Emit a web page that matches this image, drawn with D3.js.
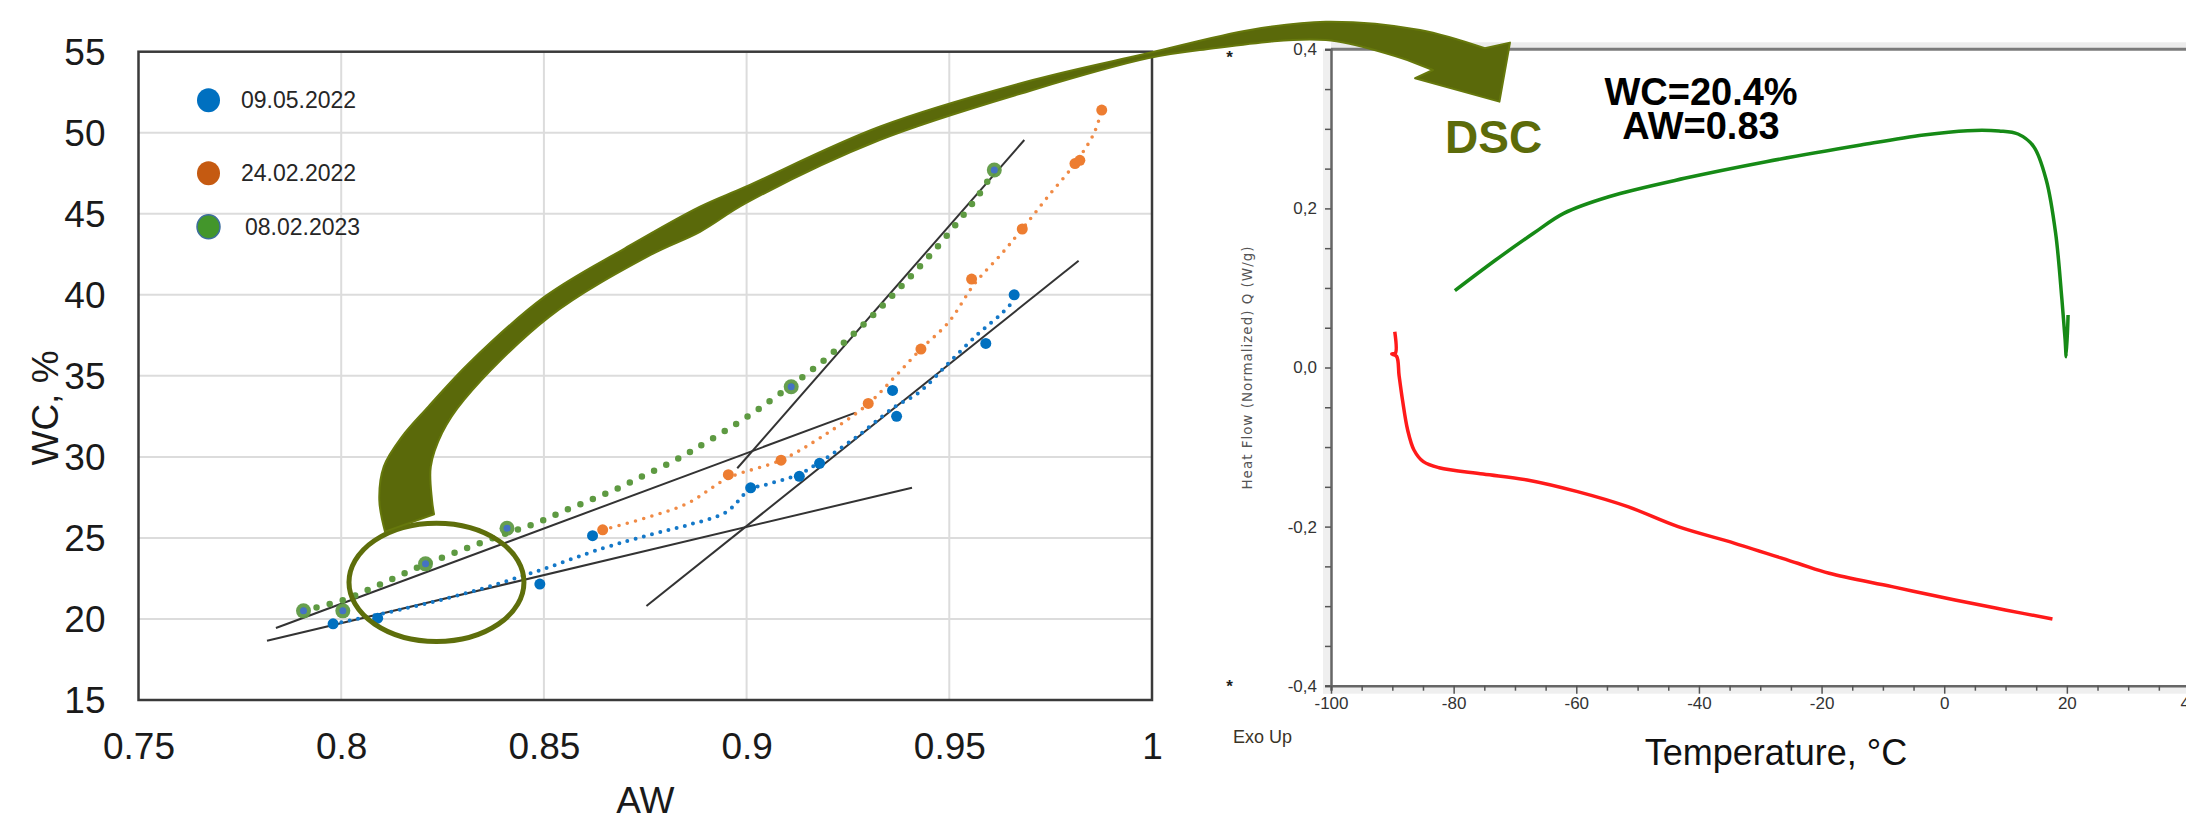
<!DOCTYPE html>
<html><head><meta charset="utf-8">
<script src="https://cdn.jsdelivr.net/npm/d3@7/dist/d3.min.js"></script>
<style>html,body{margin:0;padding:0;background:#fff;overflow:hidden}svg{display:block}</style>
</head><body>
<svg id="c" width="2186" height="821"></svg>
<script>
// ---------- LEFT CHART DATA (AW vs WC) ----------
const awTicks = [0.75, 0.8, 0.85, 0.9, 0.95, 1];
const awTickLabels = ["0.75", "0.8", "0.85", "0.9", "0.95", "1"];
const wcTicks = [15, 20, 25, 30, 35, 40, 45, 50, 55];
const seriesNames = ["09.05.2022", "24.02.2022", "08.02.2023"];

const blueAW = [0.798, 0.809, 0.849, 0.862, 0.901, 0.913, 0.918, 0.937, 0.936, 0.959, 0.966];
const blueWC = [19.7, 20.05, 22.15, 25.14, 28.09, 28.8, 29.6, 32.5, 34.1, 37.0, 40.0];
const orangeAW = [0.8645, 0.8955, 0.9085, 0.930, 0.943, 0.9555, 0.968, 0.981, 0.9822, 0.9876];
const orangeWC = [25.5, 28.9, 29.8, 33.3, 36.65, 40.97, 44.06, 48.1, 48.3, 51.4];
const greenAW = [0.7907, 0.8004, 0.8208, 0.8409, 0.911, 0.9611];
const greenWC = [20.5, 20.5, 23.4, 25.6, 34.33, 47.7];

// dotted trend curves
const blueTrendAW = [0.798, 0.815, 0.8314, 0.848, 0.8645, 0.8762, 0.8856, 0.895, 0.9008, 0.9045, 0.9127, 0.9176, 0.9272, 0.9366, 0.9423, 0.9498, 0.9573, 0.963, 0.9657];
const blueTrendWC = [19.7, 20.6, 21.63, 22.92, 24.36, 25.2, 25.8, 26.6, 28.0, 28.27, 28.9, 29.6, 31.25, 33.1, 33.93, 35.78, 37.63, 38.86, 39.58];
const orangeTrendAW = [0.8645, 0.876, 0.8855, 0.8955, 0.9085, 0.9186, 0.930, 0.9366, 0.943, 0.9498, 0.9563, 0.963, 0.968, 0.9743, 0.981, 0.9857, 0.9876];
const orangeTrendWC = [25.5, 26.3, 27.14, 28.7, 29.8, 31.25, 33.27, 34.95, 36.65, 38.3, 40.7, 42.56, 44.06, 46.05, 48.1, 49.97, 51.4];
const greenTrendAW = [0.7907, 0.8006, 0.8108, 0.8208, 0.8310, 0.8409, 0.8480, 0.8548, 0.8615, 0.8681, 0.8746, 0.8812, 0.8876, 0.9005, 0.9066, 0.9128, 0.9189, 0.9247, 0.9304, 0.9361, 0.9418, 0.9474, 0.9526, 0.9576, 0.9611];
const greenTrendWC = [20.52, 21.18, 22.27, 23.38, 24.37, 25.3, 25.9, 26.65, 27.34, 28.04, 28.84, 29.64, 30.53, 32.53, 33.6, 34.73, 35.92, 37.2, 38.55, 39.99, 41.49, 43.06, 44.64, 46.28, 47.7];

// straight tangent lines [AW1, WC1, AW2, WC2]
const tangentA = [0.7839, 19.44, 0.9269, 32.73];
const tangentB = [0.7817, 18.65, 0.9408, 28.1];
const tangentC = [0.8977, 29.3, 0.9685, 49.55];
const tangentD = [0.8753, 20.8, 0.9819, 42.1];

// highlight ellipse (centre AW, WC, half-width AW, half-height WC)
const ellipseAW = [0.8235, 0.02158];
const ellipseWC = [22.26, 3.65];

// olive arrow outline in left-chart data units
const arrowUpperAW = [0.8108, 0.8094, 0.8105, 0.8150, 0.8215, 0.8315, 0.8502, 0.8700, 0.8885, 0.8998, 0.9328, 0.9706, 0.9989, 1.0242, 1.0429, 1.0661, 1.0821];
const arrowUpperWC = [25.39, 27.34, 29.40, 31.25, 33.10, 35.78, 39.89, 42.87, 45.44, 46.67, 50.37, 53.25, 54.90, 56.34, 56.85, 56.34, 55.21];
const arrowHeadAW = [1.0883, 1.0857, 1.0649, 1.0693];
const arrowHeadWC = [55.56, 51.92, 53.36, 53.87];
const arrowLowerAW = [1.0630, 1.0429, 1.0118, 0.9989, 0.9706, 0.9328, 0.8998, 0.8885, 0.8762, 0.8513, 0.8303, 0.8249, 0.8221, 0.8224, 0.8229];
const arrowLowerWC = [54.49, 55.72, 55.10, 54.59, 52.64, 49.55, 45.65, 43.89, 42.45, 38.64, 33.52, 31.48, 29.40, 27.34, 26.46];

// ---------- RIGHT CHART DATA (DSC) ----------
const tempTicks = [-100, -80, -60, -40, -20, 0, 20, 40];
const qTicks = [-0.4, -0.2, 0.0, 0.2, 0.4];
const qTickLabels = ["-0,4", "-0,2", "0,0", "0,2", "0,4"];
const greenT = [-79.8, -73.15, -66.98, -62.05, -54.7, -42.36, -29.04, -13.6, -3.36, 3.82, 8.94, 12.03, 14.6, 16.64, 18.17, 19.2, 19.72, 19.9, 20.2];
const greenQ = [0.0966, 0.1351, 0.1687, 0.1938, 0.2147, 0.2378, 0.2587, 0.2797, 0.2923, 0.2977, 0.2973, 0.2935, 0.2776, 0.2357, 0.1687, 0.0849, 0.0346, 0.0136, 0.066];
const redT = [-89.6, -89.5, -90.1, -89.3, -88.9, -88.34, -87.5, -86.47, -84.94, -82.38, -75.2, -68.0, -59.8, -51.6, -43.4, -34.16, -23.9, -18.76, -8.5, 1.76, 9.96, 17.65];
const redQ = [0.045, 0.018, 0.017, 0.014, -0.01, -0.0409, -0.0786, -0.1037, -0.1184, -0.126, -0.1339, -0.1414, -0.1561, -0.175, -0.2001, -0.221, -0.2461, -0.2587, -0.2755, -0.2923, -0.3048, -0.3161];
const dscNote = ["WC=20.4%", "AW=0.83"];

// ================= DRAW =================
const svg = d3.select("#c");
const FONT = "'Liberation Sans', Arial, sans-serif";

// ---- left chart scales ----
const L = {left: 138.5, right: 1152, top: 51.7, bottom: 700};
const x = d3.scaleLinear().domain([0.75, 1]).range([L.left, L.right]);
const y = d3.scaleLinear().domain([15, 55]).range([L.bottom, L.top]);

const gL = svg.append("g");
// grid
gL.append("g").selectAll("line.v").data(awTicks.slice(1, -1)).join("line")
  .attr("x1", d => x(d)).attr("x2", d => x(d)).attr("y1", L.top).attr("y2", L.bottom)
  .attr("stroke", "#dcdcdc").attr("stroke-width", 2);
gL.append("g").selectAll("line.h").data(wcTicks.slice(1, -1)).join("line")
  .attr("y1", d => y(d)).attr("y2", d => y(d)).attr("x1", L.left).attr("x2", L.right)
  .attr("stroke", "#dcdcdc").attr("stroke-width", 2);
// frame
gL.append("rect").attr("x", L.left).attr("y", L.top).attr("width", L.right - L.left).attr("height", L.bottom - L.top)
  .attr("fill", "none").attr("stroke", "#3a3a3a").attr("stroke-width", 2.5);

// axes (labels only)
const yAx = gL.append("g").attr("transform", `translate(${L.left - 33},0)`)
  .call(d3.axisLeft(y).tickValues(wcTicks).tickSize(0).tickFormat(d3.format("d")));
yAx.select(".domain").remove();
yAx.selectAll("text").attr("font-family", FONT).attr("font-size", 37).attr("fill", "#1a1a1a").attr("x", 0).attr("dy", "0.35em");
const xAx = gL.append("g").attr("transform", `translate(0,${L.bottom + 33})`)
  .call(d3.axisBottom(x).tickValues(awTicks).tickSize(0).tickFormat((d, i) => awTickLabels[i]));
xAx.select(".domain").remove();
xAx.selectAll("text").attr("font-family", FONT).attr("font-size", 37).attr("fill", "#1a1a1a").attr("y", 0).attr("dy", "0.71em");

gL.append("text").attr("x", (L.left + L.right) / 2).attr("y", 813).attr("text-anchor", "middle")
  .attr("font-family", FONT).attr("font-size", 37).attr("fill", "#1a1a1a").text("AW");
gL.append("text").attr("transform", "translate(58,408) rotate(-90)").attr("text-anchor", "middle")
  .attr("font-family", FONT).attr("font-size", 37).attr("fill", "#1a1a1a").text("WC, %");

// tangent lines
[tangentA, tangentB, tangentC, tangentD].forEach(t => {
  gL.append("line").attr("x1", x(t[0])).attr("y1", y(t[1])).attr("x2", x(t[2])).attr("y2", y(t[3]))
    .attr("stroke", "#333").attr("stroke-width", 2);
});

// dotted trend curves
const lineGen = d3.line().x(d => x(d[0])).y(d => y(d[1])).curve(d3.curveCatmullRom.alpha(0.5));
const zipped = (a, b) => a.map((v, i) => [v, b[i]]);
gL.append("path").attr("d", lineGen(zipped(greenTrendAW, greenTrendWC))).attr("fill", "none")
  .attr("stroke", "#5e9a42").attr("stroke-width", 6.5).attr("stroke-linecap", "round").attr("stroke-dasharray", "0 13.5");
gL.append("path").attr("d", lineGen(zipped(orangeTrendAW, orangeTrendWC))).attr("fill", "none")
  .attr("stroke", "#f08a45").attr("stroke-width", 3.6).attr("stroke-linecap", "round").attr("stroke-dasharray", "0 8.5");
gL.append("path").attr("d", lineGen(zipped(blueTrendAW, blueTrendWC))).attr("fill", "none")
  .attr("stroke", "#1478c8").attr("stroke-width", 4).attr("stroke-linecap", "round").attr("stroke-dasharray", "0 8.5");

// points
gL.append("g").selectAll("circle").data(zipped(greenAW, greenWC)).join("circle")
  .attr("cx", d => x(d[0])).attr("cy", d => y(d[1])).attr("r", 7.5).attr("fill", "#5f9a45").attr("opacity", 0.95);
gL.append("g").selectAll("circle").data(zipped(greenAW, greenWC)).join("circle")
  .attr("cx", d => x(d[0])).attr("cy", d => y(d[1])).attr("r", 3.5).attr("fill", "#4472c4");
gL.append("g").selectAll("circle").data(zipped(orangeAW, orangeWC)).join("circle")
  .attr("cx", d => x(d[0])).attr("cy", d => y(d[1])).attr("r", 5.5).attr("fill", "#ed7d31");
gL.append("g").selectAll("circle").data(zipped(blueAW, blueWC)).join("circle")
  .attr("cx", d => x(d[0])).attr("cy", d => y(d[1])).attr("r", 5.5).attr("fill", "#0070c0");

// legend
const legColors = ["#0070c0", "#c55a11", "#43962b"];
const legY = [52, 47.5, 44.2];
seriesNames.forEach((n, i) => {
  const cy = y(legY[i]);
  gL.append("ellipse").attr("cx", 208.5).attr("cy", cy).attr("rx", 11.5).attr("ry", 12)
    .attr("fill", legColors[i]).attr("stroke", i === 2 ? "#3e6e9e" : "none").attr("stroke-width", 1.5);
  gL.append("text").attr("x", i === 2 ? 245 : 241).attr("y", cy).attr("dy", "0.35em")
    .attr("font-family", FONT).attr("font-size", 23).attr("fill", "#262626").text(n);
});

// ---- right chart (DSC) ----
const R = {left: 1331, top: 49.3, bottom: 685.7};
const tx = d3.scaleLinear().domain([-100, 40]).range([1331, 2189.5]);
const qy = d3.scaleLinear().domain([-0.4, 0.4]).range([R.bottom, R.top]);
const gR = svg.append("g");
// shadows
gR.append("rect").attr("x", R.left).attr("y", R.top - 7).attr("width", 2186 - R.left).attr("height", 7).attr("fill", "#ececec");
gR.append("rect").attr("x", R.left - 8).attr("y", R.top).attr("width", 8).attr("height", R.bottom - R.top + 8).attr("fill", "#efefef");
gR.append("rect").attr("x", R.left - 8).attr("y", R.bottom).attr("width", 2186 - R.left + 8).attr("height", 8).attr("fill", "#efefef");
// frame top
gR.append("line").attr("x1", R.left).attr("x2", 2186).attr("y1", R.top).attr("y2", R.top).attr("stroke", "#7a7a7a").attr("stroke-width", 3);

// y axis
const qMinor = d3.range(-8, 9).map(k => k * 0.05);
const qAx = gR.append("g").attr("transform", `translate(${R.left},0)`)
  .call(d3.axisLeft(qy).tickValues(qMinor).tickSize(6).tickPadding(8)
    .tickFormat(d => { const i = qTicks.findIndex(v => Math.abs(v - d) < 1e-6); return i >= 0 ? qTickLabels[i] : ""; }));
qAx.select(".domain").attr("stroke", "#666").attr("stroke-width", 2.5);
qAx.selectAll(".tick line").attr("stroke", "#555").attr("stroke-width", 1.5);
qAx.selectAll("text").attr("font-family", FONT).attr("font-size", 17).attr("fill", "#333");
qAx.selectAll("text").filter(function () { return this.textContent === ""; }).remove();
// x axis
const tMinor = d3.range(-20, 9).map(k => k * 5);
const tAx = gR.append("g").attr("transform", `translate(0,${R.bottom})`)
  .call(d3.axisBottom(tx).tickValues(tMinor).tickSize(5).tickPadding(6)
    .tickFormat(d => tempTicks.includes(d) ? String(d) : ""));
tAx.select(".domain").attr("stroke", "#666").attr("stroke-width", 2.5);
tAx.selectAll(".tick line").attr("stroke", "#555").attr("stroke-width", 1.5)
  .attr("y2", d => tempTicks.includes(d) ? 8 : 5);
tAx.selectAll("text").attr("font-family", FONT).attr("font-size", 17).attr("fill", "#333");
tAx.selectAll("text").filter(function () { return this.textContent === ""; }).remove();

// labels
gR.append("text").attr("transform", "translate(1252,368) rotate(-90)").attr("text-anchor", "middle")
  .attr("font-family", "'DejaVu Sans', Verdana, sans-serif").attr("font-size", 13.5).attr("fill", "#555")
  .attr("textLength", 243).attr("lengthAdjust", "spacing").text("Heat Flow (Normalized)  Q  (W/g)");
gR.append("text").attr("x", 1233).attr("y", 743).attr("font-family", FONT).attr("font-size", 18).attr("fill", "#3a3326").text("Exo Up");
gR.append("text").attr("x", 1229.5).attr("y", 63).attr("text-anchor", "middle").attr("font-family", FONT).attr("font-size", 17).attr("font-weight", "bold").attr("fill", "#222").text("*");
gR.append("text").attr("x", 1229.5).attr("y", 692).attr("text-anchor", "middle").attr("font-family", FONT).attr("font-size", 17).attr("font-weight", "bold").attr("fill", "#222").text("*");
gR.append("text").attr("x", 1776).attr("y", 765).attr("text-anchor", "middle").attr("font-family", FONT).attr("font-size", 36).attr("fill", "#111").text("Temperature, °C");
const note = gR.append("text").attr("text-anchor", "middle").attr("font-family", FONT).attr("font-size", 38).attr("font-weight", "bold").attr("fill", "#000");
note.append("tspan").attr("x", 1701).attr("y", 105).text(dscNote[0]);
note.append("tspan").attr("x", 1701).attr("y", 138.5).text(dscNote[1]);
gR.append("text").attr("x", 1445).attr("y", 153).attr("font-family", FONT).attr("font-size", 46).attr("font-weight", "bold").attr("fill", "#5c6b0a").text("DSC");

// DSC curves
const dscLine = d3.line().x(d => tx(d[0])).y(d => qy(d[1])).curve(d3.curveCatmullRom.alpha(0.5));
gR.append("path").attr("d", dscLine(zipped(redT, redQ))).attr("fill", "none").attr("stroke", "#ff1a1a").attr("stroke-width", 3.5).attr("stroke-linejoin", "round");
gR.append("path").attr("d", dscLine(zipped(greenT, greenQ))).attr("fill", "none").attr("stroke", "#168a16").attr("stroke-width", 3.5).attr("stroke-linejoin", "round");

// ---- annotations on top ----
const ex = ellipseAW, ey = ellipseWC;
svg.append("ellipse").attr("cx", x(ex[0])).attr("cy", y(ey[0]))
  .attr("rx", x(ex[0] + ex[1]) - x(ex[0])).attr("ry", y(ey[0] - ey[1]) - y(ey[0]))
  .attr("fill", "none").attr("stroke", "#5e6e0b").attr("stroke-width", 5);

const edge = d3.line().x(d => x(d[0])).y(d => y(d[1])).curve(d3.curveCatmullRom.alpha(0.5));
const up = edge(zipped(arrowUpperAW, arrowUpperWC));
const head = zipped(arrowHeadAW, arrowHeadWC).map(d => `L${x(d[0])},${y(d[1])}`).join("");
const low = edge(zipped(arrowLowerAW, arrowLowerWC)).replace(/^M/, "L");
svg.append("path").attr("d", up + head + low + "Z")
  .attr("fill", "#5a690a").attr("stroke", "#66780c").attr("stroke-width", 2).attr("stroke-linejoin", "round");
</script>
</body></html>
